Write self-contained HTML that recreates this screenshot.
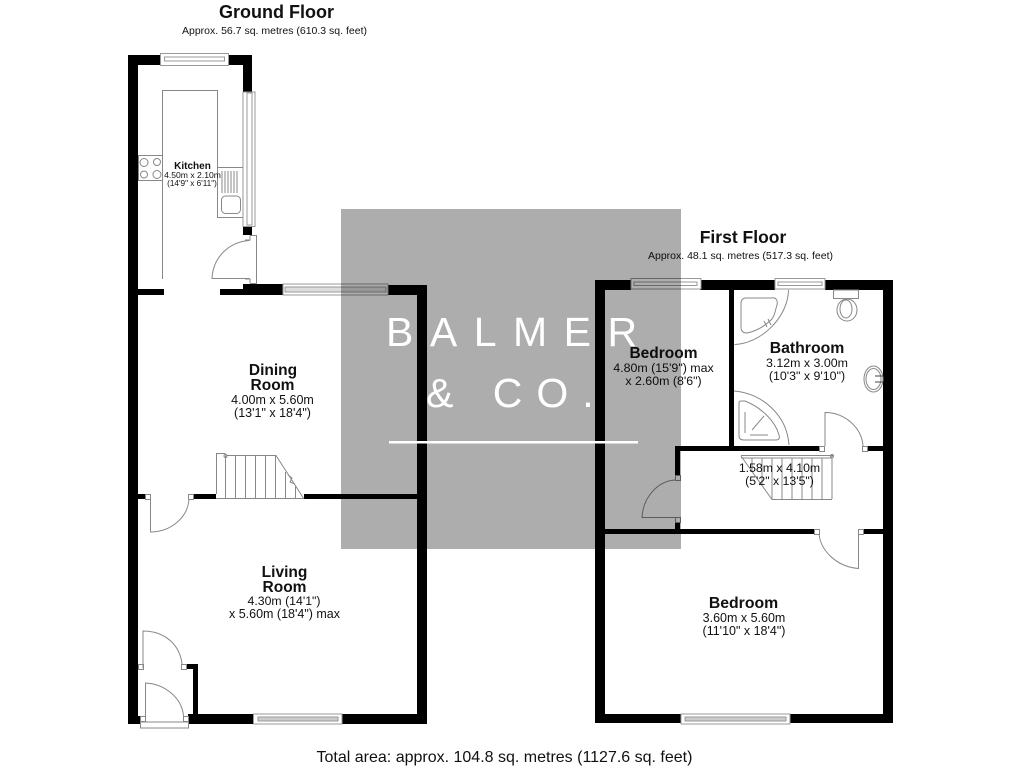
<!DOCTYPE html>
<html><head><meta charset="utf-8"><style>
html,body{margin:0;padding:0;background:#fff;width:1024px;height:768px;overflow:hidden}
svg{display:block}
text{font-family:"Liberation Sans",sans-serif;fill:#111;text-anchor:middle}
.b{font-weight:bold}
.l{fill:none;stroke:#888;stroke-width:1}
.w{fill:#fff;stroke:#999;stroke-width:1}
.k{fill:#000}
</style></head><body>
<svg width="1024" height="768" viewBox="0 0 1024 768" xmlns="http://www.w3.org/2000/svg">
<rect width="1024" height="768" fill="#fff"/>
<!-- walls ground -->
<g class="k">
<rect x="128" y="55" width="10" height="669"/>
<rect x="128" y="716" width="12" height="8"/>
<rect x="128" y="55" width="33" height="10"/>
<rect x="228" y="55" width="24" height="10"/>
<rect x="243" y="55" width="9" height="37"/>
<rect x="243" y="227" width="9" height="8"/>
<rect x="138" y="289" width="26" height="6"/>
<rect x="220" y="289" width="63" height="6"/>
<rect x="243" y="284" width="40" height="11"/>
<rect x="388" y="285" width="39" height="10"/>
<rect x="417" y="285" width="10" height="439"/>
<rect x="188" y="714" width="66" height="10"/>
<rect x="342" y="714" width="85" height="10"/>
<rect x="138" y="494" width="7" height="5"/>
<rect x="193" y="494" width="23" height="5"/>
<rect x="304" y="494" width="113" height="5"/>
<rect x="186" y="664" width="12" height="5"/>
<rect x="193" y="664" width="5" height="52"/>
</g>
<!-- kitchen fittings -->
<g class="l">
<path d="M162.500 279V90.500H217.500V217.500H243"/>
<rect x="138.500" y="155.500" width="24" height="25"/>
<circle cx="144" cy="162.500" r="4"/><circle cx="157" cy="162" r="3.500"/><circle cx="144" cy="174.500" r="3.500"/><circle cx="157" cy="174.500" r="4"/>
<path d="M218 167.500H243"/>
<path d="M222 171V193M225 171V193M228 171V193M231 171V193M234 171V193M237 171V193"/>
<rect x="221.500" y="196" width="19" height="17.500" rx="4"/>
<!-- kitchen door -->
<path d="M249.500 240.500C228 242 213 258 212 278.500H249.500M250 235.500H256.500V283.500H250M245 240H250V235.500M245 279H250V283"/>
</g>
<!-- kitchen top & side windows -->
<g class="w">
<rect x="160.500" y="53.500" width="68" height="12"/>
<rect x="164.500" y="57" width="60" height="4"/>
<rect x="243" y="92" width="12" height="134.500"/>
<rect x="247" y="93" width="5" height="132"/>
<rect x="283" y="284" width="105" height="11"/>
<rect x="285" y="287" width="101" height="5" fill="#ddd"/>
<rect x="253.500" y="714" width="88.500" height="10"/>
<rect x="258" y="717" width="80" height="4" fill="#ccc"/>
</g>
<!-- stairs ground -->
<g class="l">
<path d="M216.500 494V453.500H225.500M225.500 455.500H276L304 499M216 498.500H304"/>
<path d="M225.500 456V498M235.500 456V498M245.500 456V498M255.500 456V498M265.500 456V498M275.500 456V498M285.500 472V498M295.500 486V498"/>
<path d="M288 475L292 478L290 482L295 484"/>
<circle cx="225.500" cy="456" r="1.500"/>
<!-- inner door -->
<rect x="145.500" y="494.500" width="5" height="5"/><rect x="188.500" y="494.500" width="5" height="5"/>
<path d="M150.500 499V532C170 532 188 518 189 499"/>
<!-- porch doors -->
<path d="M143 668V631C165 631 180 645 182 664"/>
<rect x="138.500" y="664.500" width="5" height="5"/><rect x="181.500" y="664.500" width="5" height="5"/>
<path d="M145.500 716V683C165 684 182 698 183.500 716"/>
<rect x="140.500" y="716.500" width="5" height="5"/><rect x="183.500" y="716.500" width="5" height="5"/>
<path d="M140.500 722V728H188.500V722M140.500 722H188.500"/>
</g>
<!-- walls first floor -->
<g class="k">
<rect x="595" y="280" width="10" height="443"/>
<rect x="595" y="280" width="36" height="10"/>
<rect x="700" y="280" width="75" height="10"/>
<rect x="825" y="280" width="68" height="10"/>
<rect x="883" y="280" width="10" height="443"/>
<rect x="595" y="714" width="86" height="9"/>
<rect x="790" y="714" width="103" height="9"/>
<rect x="729" y="290" width="5" height="161"/>
<rect x="675" y="446" width="144" height="5"/>
<rect x="867" y="446" width="16" height="5"/>
<rect x="675" y="446" width="5" height="29"/>
<rect x="675" y="522" width="5" height="7"/>
<rect x="605" y="529" width="209" height="5"/>
<rect x="863" y="529" width="20" height="5"/>
</g>
<!-- first floor windows -->
<g class="w">
<rect x="631" y="278.500" width="70" height="10.500"/>
<rect x="634" y="282" width="63" height="3.500"/>
<rect x="775" y="278.500" width="50" height="10.500"/>
<rect x="778" y="282" width="44" height="3.500"/>
<rect x="681" y="714" width="109" height="10"/>
<rect x="685" y="717" width="101" height="4" fill="#ccc"/>
</g>
<!-- bathroom fixtures -->
<g class="l">
<path d="M734.500 344.500C760 344 788 318 788.500 290"/>
<path d="M746 298H771C776 297 778 300 777 305C775 311 775 315 772 319C765 326 757 331 747 333C743 333 741 331 741 327V303C741 300 743 298 746 298Z"/>
<path d="M764 321L767 327M768 319L771 325"/>
<path d="M734 391C762 393 787 415 789 445"/>
<path d="M741 401C739 401 739 402 739 404V436C739 439 741 440 744 440H776C779 440 780 438 779 435C775 420 760 407 745 401Z"/>
<path d="M745 412V433M752 430L764 416M750 435H768"/>
<rect x="833.500" y="290" width="25" height="8.500"/>
<ellipse cx="847" cy="310" rx="10" ry="11"/>
<ellipse cx="846" cy="309" rx="6" ry="9"/>
<ellipse cx="873.500" cy="379" rx="9.500" ry="13"/>
<ellipse cx="873.500" cy="379" rx="7.500" ry="10.500"/>
<path d="M875 376H883M875 382H883" stroke="#444"/>
<!-- bathroom door -->
<rect x="819.500" y="446.500" width="5" height="5"/><rect x="862.500" y="446.500" width="5" height="5"/>
<path d="M825 446V412.500C845 412.500 862 428 863 446"/>
<!-- stairs first -->
<path d="M741 455.500H833M741 458H832M741 456L772 499.500H832"/>
<path d="M832 455V499M772 458V499M782 458V499M792 458V499M802 458V499M812 458V499M822 458V499M762 458V486M752 458V472"/>
<circle cx="832" cy="456" r="1.500"/>
<!-- bedroom door left -->
<rect x="675.500" y="475.500" width="5" height="5"/><rect x="675.500" y="517.500" width="5" height="5"/>
<path d="M675 480C658 481 643 497 642 517.500H675"/>
<!-- bottom bedroom door -->
<rect x="814.500" y="529.500" width="5" height="5"/><rect x="858.500" y="529.500" width="5" height="5"/>
<path d="M819 534C821 552 838 567 858.500 568.500V534"/>
</g>
<!-- labels -->
<text x="276.500" y="18" class="b" font-size="18">Ground Floor</text>
<text x="274.500" y="34" font-size="10.500">Approx. 56.7 sq. metres (610.3 sq. feet)</text>
<text x="192.500" y="169" class="b" font-size="10">Kitchen</text>
<text x="192.500" y="178" font-size="8.600">4.50m x 2.10m</text>
<text x="192" y="186" font-size="8.200">(14'9" x 6'11")</text>
<text x="273" y="375" class="b" font-size="15.500">Dining</text>
<text x="272.500" y="390" class="b" font-size="15.500">Room</text>
<text x="272.500" y="404" font-size="12.500">4.00m x 5.60m</text>
<text x="272.500" y="417" font-size="12.500">(13'1" x 18'4")</text>
<text x="284.500" y="577" class="b" font-size="15.500">Living</text>
<text x="284.500" y="592" class="b" font-size="15.500">Room</text>
<text x="284" y="605" font-size="12.300">4.30m (14'1")</text>
<text x="284.500" y="618" font-size="12.500">x 5.60m (18'4") max</text>
<text x="743" y="243" class="b" font-size="17.500">First Floor</text>
<text x="740.500" y="259" font-size="10.500">Approx. 48.1 sq. metres (517.3 sq. feet)</text>
<text x="663.500" y="358" class="b" font-size="15.500">Bedroom</text>
<text x="663.500" y="372" font-size="12.400">4.80m (15'9") max</text>
<text x="663.500" y="385" font-size="12.400">x 2.60m (8'6")</text>
<text x="807" y="353" class="b" font-size="15.800">Bathroom</text>
<text x="807" y="367" font-size="12.400">3.12m x 3.00m</text>
<text x="807" y="380" font-size="12.400">(10'3" x 9'10")</text>
<text x="779.500" y="472" font-size="12.300">1.58m x 4.10m</text>
<text x="779.500" y="485" font-size="12.300">(5'2" x 13'5")</text>
<text x="743.500" y="608" class="b" font-size="15.800">Bedroom</text>
<text x="744" y="622" font-size="12.500">3.60m x 5.60m</text>
<text x="744" y="635" font-size="12.500">(11'10" x 18'4")</text>
<text x="504.500" y="762" font-size="16">Total area: approx. 104.8 sq. metres (1127.6 sq. feet)</text>
<!-- watermark -->
<rect x="341" y="209" width="340" height="340" fill="#aeadae" style="mix-blend-mode:multiply"/>
<text x="386" y="346" font-size="41" letter-spacing="16.500" style="fill:#fff;text-anchor:start">BALMER</text>
<text x="426" y="407" font-size="41" letter-spacing="14" style="fill:#fff;text-anchor:start">&amp; CO.</text>
<rect x="389" y="441" width="249" height="2.500" fill="#fff"/>
</svg>
</body></html>
